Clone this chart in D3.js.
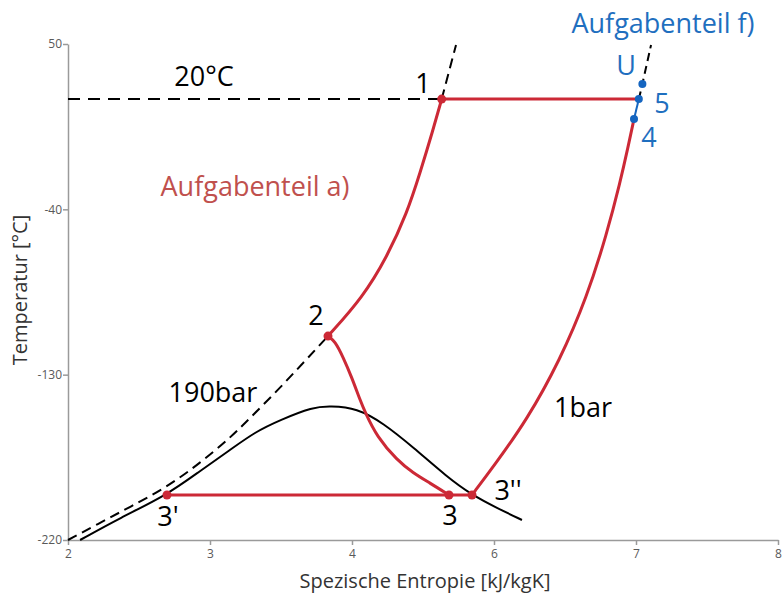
<!DOCTYPE html>
<meta charset="utf-8">
<style>

    body {
        margin: 0;
        background: #ffffff;
    }

    text {
        font-family: "Open Sans", sans-serif;
    }

    .axis path,
    .axis line {
        stroke: #9a9a9a;
        stroke-width: 1.5px;
    }

    .axis text {
        fill: #595959;
        font-size: 12px;
    }

    .title {
        fill: #333333;
        font-size: 20px;
    }

    .label {
        font-size: 27px;
    }

</style>
<svg width="782" height="597"></svg>
<script src="https://d3js.org/d3.v7.min.js"></script>
<script>

    // axis ticks (the x axis skips 5 in the original)
    var xTicks = [2, 3, 4, 6, 7, 8];
    var yTicks = [50, -40, -130, -220];

    // curves as [s in kJ/kgK, T in °C]
    var isobar190Low = [[2.0, -220], [2.225, -210.7], [2.437, -202.0], [2.697, -191.2], [2.93, -178.1],
        [3.141, -164.5], [3.282, -153.6], [3.479, -138.3], [3.655, -123.7], [3.831, -109.0]];
    var isobar190High = [[5.263, 20], [5.465, 49.5]];
    var isotherm20 = [[2.0, 20], [5.263, 20]];
    var isobar1High = [[7.02, 20], [7.045, 28.2], [7.106, 49.5]];

    var dome = [[2.085, -220], [2.366, -208.0], [2.697, -195.5], [2.93, -182.4], [3.141, -171.0],
        [3.317, -161.2], [3.493, -154.7], [3.725, -147.6], [3.845, -147.1], [4.07, -148.2],
        [4.437, -156.3], [4.859, -169.4], [5.338, -185.7], [5.69, -195.5], [6.021, -202.6], [6.197, -209.1]];

    var path12 = [[5.263, 20], [5.141, 3.2], [4.958, -20.2], [4.775, -42.0], [4.493, -65.9],
        [4.155, -87.7], [3.831, -109.0]];
    var path23 = [[3.831, -109.0], [3.88, -111.7], [3.937, -120.4], [4.0, -131.8], [4.113, -143.8],
        [4.183, -150.3], [4.352, -163.9], [4.634, -176.5], [4.859, -183.5], [5.099, -189.0], [5.366, -195.5]];
    var path33 = [[2.697, -195.5], [5.69, -195.5]];
    var path3pp4 = [[5.69, -195.5], [5.986, -180.3], [6.232, -154.7], [6.465, -122.0], [6.655, -87.7],
        [6.796, -52.9], [6.887, -25.7], [6.944, -6.1], [6.986, 9.2]];
    var path15 = [[5.263, 20], [7.02, 20]];
    var path45 = [[6.986, 9.2], [7.02, 20]];

    var redPoints = [[5.263, 20], [3.831, -109.0], [2.697, -195.5], [5.366, -195.5], [5.69, -195.5]];
    var bluePoints = [[7.045, 28.2], [7.02, 20], [6.986, 9.2]];

    // annotations: text, s, T, colour
    var labels = [
        ["20°C", 2.958, 27.1, "#000000"],
        ["1", 5.0, 23.3, "#000000"],
        ["Aufgabenteil a)", 3.317, -32.7, "#c0504d"],
        ["2", 3.746, -103.0, "#000000"],
        ["190bar", 3.021, -144.9, "#000000"],
        ["1bar", 6.627, -153.1, "#000000"],
        ["3'", 2.704, -212.4, "#000000"],
        ["3", 5.38, -211.8, "#000000"],
        ["3''", 6.099, -198.2, "#000000"],
        ["U", 6.93, 33.1, "#1f6fbf"],
        ["5", 7.183, 12.4, "#1f6fbf"],
        ["4", 7.092, -6.1, "#1f6fbf"],
        ["Aufgabenteil f)", 7.19, 56.0, "#1f6fbf"]
    ];

    var svg = d3.select("svg");

    var x = d3.scaleLinear()
        .domain(xTicks)
        .range([68, 210, 352, 494, 636, 778]);

    var y = d3.scaleLinear()
        .domain([-220, 50])
        .range([540, 44]);

    svg.append("g")
        .attr("class", "axis")
        .attr("transform", "translate(0,540)")
        .call(d3.axisBottom(x).tickValues(xTicks).tickFormat(String)
            .tickSize(5).tickSizeOuter(0).tickPadding(4));

    svg.append("g")
        .attr("class", "axis")
        .attr("transform", "translate(68,0)")
        .call(d3.axisLeft(y).tickValues(yTicks).tickFormat(String)
            .tickSize(5).tickSizeOuter(0).tickPadding(1));

    svg.append("text")
        .attr("class", "title")
        .attr("x", 425)
        .attr("y", 588)
        .attr("text-anchor", "middle")
        .text("Spezische Entropie [kJ/kgK]");

    svg.append("text")
        .attr("class", "title")
        .attr("transform", "translate(27,290) rotate(-90)")
        .attr("text-anchor", "middle")
        .text("Temperatur [°C]");

    var line = d3.line()
        .x(function (d) { return x(d[0]); })
        .y(function (d) { return y(d[1]); })
        .curve(d3.curveBasis);

    function draw(data, color, width, dash) {
        svg.append("path")
            .datum(data)
            .attr("d", line)
            .attr("fill", "none")
            .attr("stroke", color)
            .attr("stroke-width", width)
            .attr("stroke-dasharray", dash || null);
    }

    // black reference lines
    draw(isotherm20, "#000000", 2, "12,8");
    draw(isobar190Low, "#000000", 2, "10,6");
    draw(isobar190High, "#000000", 2, "10,6");
    draw(isobar1High, "#000000", 2, "8,5");
    draw(dome, "#000000", 2);

    // process a)
    draw(path12, "#cc2936", 3);
    draw(path23, "#cc2936", 3);
    draw(path33, "#cc2936", 3);
    draw(path3pp4, "#cc2936", 3);
    draw(path15, "#cc2936", 3);

    // process f)
    draw(path45, "#1565c0", 2);

    svg.append("g")
        .selectAll("circle")
        .data(redPoints)
        .enter().append("circle")
        .attr("cx", function (d) { return x(d[0]); })
        .attr("cy", function (d) { return y(d[1]); })
        .attr("r", 4.5)
        .attr("fill", "#cc2936");

    svg.append("g")
        .selectAll("circle")
        .data(bluePoints)
        .enter().append("circle")
        .attr("cx", function (d) { return x(d[0]); })
        .attr("cy", function (d) { return y(d[1]); })
        .attr("r", 4)
        .attr("fill", "#1565c0");

    svg.append("g")
        .selectAll("text")
        .data(labels)
        .enter().append("text")
        .attr("class", "label")
        .attr("x", function (d) { return x(d[1]); })
        .attr("y", function (d) { return y(d[2]); })
        .attr("text-anchor", "middle")
        .attr("fill", function (d) { return d[3]; })
        .text(function (d) { return d[0]; });

</script>
